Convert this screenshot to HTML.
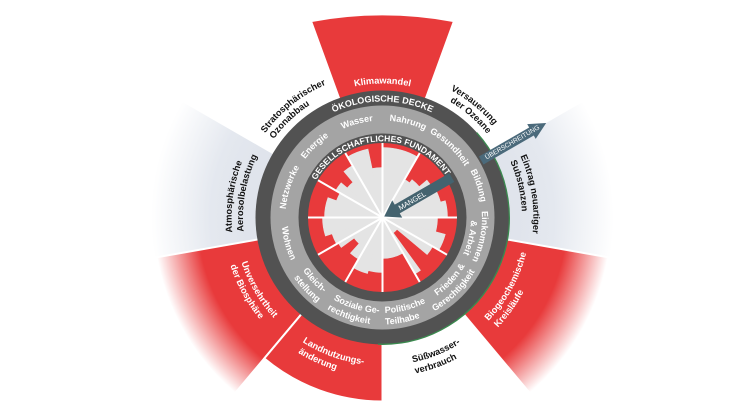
<!DOCTYPE html>
<html><head><meta charset="utf-8">
<style>
html,body{margin:0;padding:0;background:#fff;width:750px;height:415px;overflow:hidden}
svg{display:block}
text{font-family:"Liberation Sans",Arial,sans-serif}
.r{fill:#fff;font-size:9px;font-weight:bold}
.o{fill:#111;font-size:9.2px;font-weight:bold}
.ow{fill:#fff;font-size:9.2px;font-weight:bold}
.cap{fill:#fff;font-weight:bold}
</style></head><body>
<svg width="750" height="415" viewBox="0 0 750 415" xmlns="http://www.w3.org/2000/svg">
<defs>
<radialGradient id="gr" gradientUnits="userSpaceOnUse" cx="0" cy="0" r="260">
<stop offset="0.71" stop-color="#e83a3b"/>
<stop offset="0.88" stop-color="#e83a3b" stop-opacity="0"/>
</radialGradient>
<radialGradient id="gg" gradientUnits="userSpaceOnUse" cx="0" cy="0" r="260">
<stop offset="0.48" stop-color="#dfe3eb"/>
<stop offset="0.66" stop-color="#e4e8ef"/>
<stop offset="0.89" stop-color="#ffffff"/>
</radialGradient>
<path id="c76" d="M-75.91,-6.64 A76.2,76.2 0 0 1 75.91,-6.64"/>
<path id="c88" d="M-88.16,-7.71 A88.5,88.5 0 0 1 88.16,-7.71"/>
<path id="c97" d="M-96.63,-8.45 A97,97 0 0 1 96.63,-8.45"/>
<path id="c99" d="M-99.12,-8.67 A99.5,99.5 0 0 1 99.12,-8.67"/>
<path id="c116" d="M-115.56,-10.11 A116,116 0 0 1 115.56,-10.11"/>
<path id="c134" d="M-133.49,-11.68 A134,134 0 0 1 133.49,-11.68"/>
<path id="c139" d="M-138.97,-12.16 A139.5,139.5 0 0 1 138.97,-12.16"/>
<path id="c144" d="M-143.95,-12.59 A144.5,144.5 0 0 1 143.95,-12.59"/>
<path id="c151" d="M-150.42,-13.16 A151,151 0 0 1 150.42,-13.16"/>
<path id="w95" d="M-95.14,8.32 A95.5,95.5 0 0 0 95.14,8.32"/>
<path id="w101" d="M-100.62,8.80 A101,101 0 0 0 100.62,8.80"/>
<path id="w107" d="M-106.59,9.33 A107,107 0 0 0 106.59,9.33"/>
<path id="w148" d="M-147.44,12.90 A148,148 0 0 0 147.44,12.90"/>
<path id="w159" d="M-158.89,13.90 A159.5,159.5 0 0 0 158.89,13.90"/>
</defs>

<g transform="translate(382.5,217.5)">
<!-- outer wedges -->
<g stroke="#fff" stroke-width="2">
<path d="M0,0 L71.5,-196.4 A390,390 0 0 0 -71.5,-196.4 Z" fill="#e83a3b"/>
<path d="M0,0 L256.05,45.15 A260,260 0 0 0 225.17,-130 Z" fill="url(#gg)" stroke="none"/>
<path d="M0,0 L-225.17,-130 A260,260 0 0 0 -256.05,45.15 Z" fill="url(#gg)" stroke="none"/>
<path d="M0,0 L157.48,187.68 A245,245 0 0 0 241.28,42.54 Z" fill="url(#gr)"/>
<path d="M0,0 L-241.28,42.54 A245,245 0 0 0 -157.48,187.68 Z" fill="url(#gr)"/>
<path d="M0,0 L-118.27,140.95 A184,184 0 0 0 0,184 Z" fill="#e83a3b"/>
</g>

<!-- rings -->
<circle r="127" fill="#525252"/>
<path d="M94.23,-84.85 A126.8,126.8 0 0 1 -4.43,126.72" fill="none" stroke="#3b8a4f" stroke-width="1.3"/>
<circle r="112" fill="#a4a4a4"/>
<circle r="84" fill="#525252"/>
<circle r="74.5" fill="#e83a3b"/>

<!-- social foundation sub-bars -->
<g fill="#e4e4e4" stroke="#e4e4e4" stroke-width="0.6">
<circle r="33"/>
<path d="M0,0L35,-60.62A70,70 0 0 0 0,-70Z"/>
<path d="M0,0L0,-50A50,50 0 0 0 -10.4,-48.91Z"/>
<path d="M0,0L-14.55,-68.47A70,70 0 0 0 -35,-60.62Z"/>
<path d="M0,0L-30,-51.96A60,60 0 0 0 -38.57,-45.96Z"/>
<path d="M0,0L-29.57,-35.24A46,46 0 0 0 -35.24,-29.57Z"/>
<path d="M0,0L-41.37,-34.71A54,54 0 0 0 -46.77,-27Z"/>
<path d="M0,0L-42.44,-24.5A49,49 0 0 0 -46.05,-16.76Z"/>
<path d="M0,0L-54.5,-19.84A58,58 0 0 0 -58,0Z"/>
<path d="M0,0L-60,0A60,60 0 0 0 -57.06,18.54Z"/>
<path d="M0,0L-50.41,16.38A53,53 0 0 0 -45.9,26.5Z"/>
<path d="M0,0L-44.17,25.5A51,51 0 0 0 -41.26,29.98Z"/>
<path d="M0,0L-28.32,20.57A35,35 0 0 0 -23.42,26.01Z"/>
<path d="M0,0L-32.12,35.67A48,48 0 0 0 -24,41.57Z"/>
<path d="M0,0L-29,50.23A58,58 0 0 0 -15.01,56.02Z"/>
<path d="M0,0L-14.24,53.13A55,55 0 0 0 0,55Z"/>
<path d="M0,0L0,41A41,41 0 0 0 20.5,35.51Z"/>
<path d="M0,0L32.5,56.29A65,65 0 0 0 38.21,52.59Z"/>
<path d="M0,0L44.42,37.28A58,58 0 0 0 50.23,29Z"/>
<path d="M0,0L56.29,32.5A65,65 0 0 0 62.79,16.82Z"/>
<path d="M0,0L53.13,14.24A55,55 0 0 0 55,0Z"/>
<path d="M0,0L65,0A65,65 0 0 0 62.79,-16.82Z"/>
<path d="M0,0L57.96,-15.53A60,60 0 0 0 51.96,-30Z"/>
<path d="M0,0L50.23,-29A58,58 0 0 0 44.43,-37.28Z"/>
<path d="M0,0L36.77,-30.85A48,48 0 0 0 29.55,-37.82Z"/>
<path d="M0,0L27.09,-34.67A44,44 0 0 0 22,-38.11Z"/>
</g>
<!-- Frieden red notch toward center -->
<path d="M0,0L11.17,15.37A19,19 0 0 0 14.55,12.21Z" fill="#e4e4e4"/>
<path d="M11.17,15.37 L43.79,60.25 A74.5,74.5 0 0 0 57.07,47.89 L14.55,12.21 A19,19 0 0 1 11.17,15.37Z" fill="#e83a3b"/>
<g stroke="#fff" stroke-width="2">
<line x1="-74.5" y1="0" x2="74.5" y2="0"/>
<line x1="64.52" y1="-37.25" x2="-64.52" y2="37.25"/>
<line x1="37.25" y1="-64.52" x2="-37.25" y2="64.52"/>
<line x1="0" y1="-74.5" x2="0" y2="74.5"/>
<line x1="-37.25" y1="-64.52" x2="37.25" y2="64.52"/>
<line x1="-64.52" y1="-37.25" x2="64.52" y2="37.25"/>
</g>

<!-- ring captions -->
<text class="cap" font-size="9" text-anchor="middle"><textPath href="#c116" startOffset="50%">ÖKOLOGISCHE DECKE</textPath></text>
<g transform="rotate(-2)"><text class="cap" font-size="8.5" text-anchor="middle"><textPath href="#c76" startOffset="50%">GESELLSCHAFTLICHES FUNDAMENT</textPath></text></g>

<!-- social foundation labels -->
<g transform="rotate(-15)"><text class="r" text-anchor="middle"><textPath href="#c97" startOffset="50%">Wasser</textPath></text></g>
<g transform="rotate(15)"><text class="r" text-anchor="middle"><textPath href="#c97" startOffset="50%">Nahrung</textPath></text></g>
<g transform="rotate(43.6)"><text class="r" text-anchor="middle"><textPath href="#c97" startOffset="50%">Gesundheit</textPath></text></g>
<g transform="rotate(71.6)"><text class="r" text-anchor="middle"><textPath href="#c99" startOffset="50%">Bildung</textPath></text></g>
<g transform="rotate(-43.3)"><text class="r" text-anchor="middle"><textPath href="#c97" startOffset="50%">Energie</textPath></text></g>
<g transform="rotate(-72)"><text class="r" text-anchor="middle"><textPath href="#c97" startOffset="50%">Netzwerke</textPath></text></g>
<g transform="rotate(101)"><text class="r" text-anchor="middle"><textPath href="#c99" startOffset="50%">Einkommen</textPath></text></g>
<g transform="rotate(103)"><text class="r" text-anchor="middle"><textPath href="#c88" startOffset="50%">&amp; Arbeit</textPath></text></g>
<g transform="rotate(74.7)"><text class="r" text-anchor="middle"><textPath href="#w101" startOffset="50%">Wohnen</textPath></text></g>
<g transform="rotate(47.3)"><text class="r" text-anchor="middle"><textPath href="#w95" startOffset="50%">Gleich-</textPath></text></g>
<g transform="rotate(46.7)"><text class="r" text-anchor="middle"><textPath href="#w107" startOffset="50%">stellung</textPath></text></g>
<g transform="rotate(16.4)"><text class="r" text-anchor="middle"><textPath href="#w95" startOffset="50%">Soziale Ge-</textPath></text></g>
<g transform="rotate(19)"><text class="r" text-anchor="middle"><textPath href="#w107" startOffset="50%">rechtigkeit</textPath></text></g>
<g transform="rotate(-14.2)"><text class="r" text-anchor="middle"><textPath href="#w95" startOffset="50%">Politische</textPath></text></g>
<g transform="rotate(-11)"><text class="r" text-anchor="middle"><textPath href="#w107" startOffset="50%">Teilhabe</textPath></text></g>
<g transform="rotate(-47.3)"><text class="r" text-anchor="middle"><textPath href="#w95" startOffset="50%">Frieden &amp;</textPath></text></g>
<g transform="rotate(-44.3)"><text class="r" text-anchor="middle"><textPath href="#w107" startOffset="50%">Gerechtigkeit</textPath></text></g>

<!-- planetary boundary labels -->
<text class="ow" text-anchor="middle"><textPath href="#c134" startOffset="50%">Klimawandel</textPath></text>
<g transform="rotate(-38.7)"><text class="o" text-anchor="middle"><textPath href="#c144" startOffset="50%">Stratosphärischer</textPath></text></g>
<g transform="rotate(-43.5)"><text class="o" text-anchor="middle"><textPath href="#c134" startOffset="50%">Ozonabbau</textPath></text></g>
<g transform="rotate(-82)"><text class="o" text-anchor="middle"><textPath href="#c151" startOffset="50%">Atmosphärische</textPath></text></g>
<g transform="rotate(-79.8)"><text class="o" text-anchor="middle"><textPath href="#c139" startOffset="50%">Aerosolbelastung</textPath></text></g>
<g transform="rotate(39.2)"><text class="o" text-anchor="middle"><textPath href="#c144" startOffset="50%">Versauerung</textPath></text></g>
<g transform="rotate(40.8)"><text class="o" text-anchor="middle"><textPath href="#c134" startOffset="50%">der Ozeane</textPath></text></g>
<g transform="rotate(81)"><text class="o" text-anchor="middle"><textPath href="#c151" startOffset="50%">Eintrag neuartiger</textPath></text></g>
<g transform="rotate(76.9)"><text class="o" text-anchor="middle"><textPath href="#c139" startOffset="50%">Substanzen</textPath></text></g>
<g transform="rotate(-60.9)"><text class="ow" text-anchor="middle"><textPath href="#w148" startOffset="50%">Biogeochemische</textPath></text></g>
<g transform="rotate(-54.3)"><text class="ow" text-anchor="middle"><textPath href="#w159" startOffset="50%">Kreisläufe</textPath></text></g>
<g transform="rotate(-21.8)"><text class="o" text-anchor="middle"><textPath href="#w148" startOffset="50%">Süßwasser-</textPath></text></g>
<g transform="rotate(-19.9)"><text class="o" text-anchor="middle"><textPath href="#w159" startOffset="50%">verbrauch</textPath></text></g>
<g transform="rotate(20)"><text class="ow" text-anchor="middle"><textPath href="#w148" startOffset="50%">Landnutzungs-</textPath></text></g>
<g transform="rotate(24.5)"><text class="ow" text-anchor="middle"><textPath href="#w159" startOffset="50%">änderung</textPath></text></g>
<g transform="rotate(59.8)"><text class="ow" text-anchor="middle"><textPath href="#w148" startOffset="50%">Unversehrtheit</textPath></text></g>
<g transform="rotate(61.4)"><text class="ow" text-anchor="middle"><textPath href="#w159" startOffset="50%">der Biosphäre</textPath></text></g>

<!-- arrows -->
<g transform="rotate(-30)">
<polygon points="80,-5 17,-5 17,-10 2,0 17,10 17,5 80,5" fill="#44636f"/>
<text x="34" y="0.3" dominant-baseline="central" text-anchor="middle" fill="#fff" font-size="7.2">MANGEL</text>
<polygon points="114,-4.6 172,-4.6 172,-8.5 189,0 172,8.5 172,4.6 114,4.6" fill="#4b6a7b"/>
<text x="150" y="0.3" dominant-baseline="central" text-anchor="middle" fill="#fff" font-size="6.6">ÜBERSCHREITUNG</text>
</g>
</g>
</svg>
</body></html>
